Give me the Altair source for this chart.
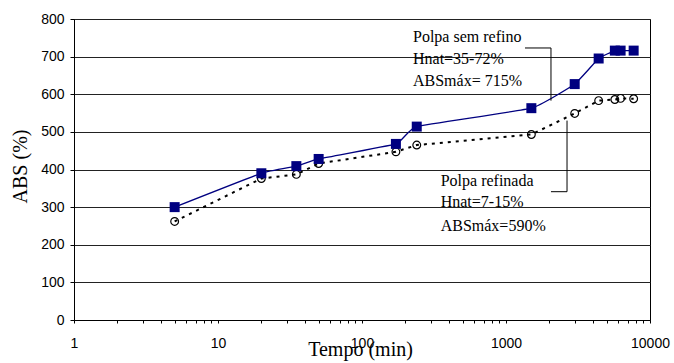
import altair as alt
import pandas as pd

# ---- data ----
tempo = [5, 20, 35, 50, 172, 240, 1500, 3000, 4400, 5700, 6250, 7700]
abs_sem_refino = [300, 390, 409, 428, 468, 514, 563, 627, 695, 716, 716, 716]
abs_refinada = [262, 376, 387, 416, 447, 465, 493, 549, 583, 586, 589, 588]

y_ticks = [0, 100, 200, 300, 400, 500, 600, 700, 800]
x_major = [1, 10, 100, 1000, 10000]
x_ticks = [m * 10 ** k for k in range(4) for m in range(1, 10)] + [10000]

label_sem = ["Polpa sem refino", "Hnat=35-72%", "ABSmáx= 715%"]
label_sem_y = [753, 693, 636]
label_sem_x = 226

label_ref = ["Polpa refinada", "Hnat=7-15%", "ABSmáx=590%"]
label_ref_y = [370, 314, 250]
label_ref_x = 352

# callout leader lines (data coordinates)
leaders = pd.DataFrame({
    "t":  [1355, 2053, 2053, 2653],
    "t2": [2053, 2053, 2653, 2653],
    "v":  [723, 723, 341, 530],
    "v2": [723, 583, 341, 341],
})

df1 = pd.DataFrame({"t": tempo, "v": abs_sem_refino})
df2 = pd.DataFrame({"t": tempo, "v": abs_refinada})
t1 = pd.DataFrame({"t": [label_sem_x] * 3, "v": label_sem_y, "txt": label_sem})
t2 = pd.DataFrame({"t": [label_ref_x] * 3, "v": label_ref_y, "txt": label_ref})

major_expr = "||".join(f"datum.value=={m}" for m in x_major)
SERIF = "Liberation Serif, Times New Roman, serif"

x_enc = alt.X(
    "t:Q",
    scale=alt.Scale(type="log", domain=[1, 10000], nice=False),
    axis=alt.Axis(
        values=x_ticks,
        tickCount=50,
        labelExpr=f"({major_expr}) ? format(datum.value, 'd') : ''",
        labelOverlap=False,
        labelFlush=False,
        grid=False,
        title="Tempo  (min)",
        titleFont=SERIF,
        titleFontSize=20,
        titleFontWeight="normal",
        titleX=286,
        titleY=35,
        titleAlign="center",
        titleBaseline="alphabetic",
        tickSize=3,
        labelPadding=13,
    ),
)
y_enc = alt.Y(
    "v:Q",
    scale=alt.Scale(domain=[0, 800], nice=False),
    axis=alt.Axis(
        values=y_ticks,
        tickCount=20,
        labelOverlap=False,
        grid=True,
        gridColor="#222222",
        gridOpacity=1,
        gridWidth=1,
        title="ABS (%)",
        titleFont=SERIF,
        titleFontSize=20,
        titleFontWeight="normal",
        titleAngle=-90,
        titleX=-48,
        titleY=147,
        titleAlign="center",
        titleBaseline="alphabetic",
        tickSize=4,
        labelPadding=6,
    ),
)

line1 = alt.Chart(df1).mark_line(color="#000080", strokeWidth=1.3, interpolate="cardinal", tension=0.65).encode(x=x_enc, y=y_enc)
pts1 = alt.Chart(df1).mark_square(color="#000080", size=100, opacity=1).encode(x=x_enc, y=y_enc)
line2 = alt.Chart(df2).mark_line(color="black", strokeWidth=2, strokeDash=[3, 5], interpolate="linear").encode(x=x_enc, y=y_enc)
pts2 = alt.Chart(df2).mark_point(shape="circle", filled=False, color="black", size=60, strokeWidth=1.2, opacity=1).encode(x=x_enc, y=y_enc)

txt1 = alt.Chart(t1).mark_text(align="left", baseline="middle", font=SERIF, fontSize=16, color="black").encode(x=x_enc, y=y_enc, text="txt:N")
txt2 = alt.Chart(t2).mark_text(align="left", baseline="middle", font=SERIF, fontSize=16, color="black").encode(x=x_enc, y=y_enc, text="txt:N")
lead = alt.Chart(leaders).mark_rule(color="black", strokeWidth=1).encode(x=x_enc, x2="t2:Q", y=y_enc, y2="v2:Q")

chart = (
    alt.layer(line1, line2, pts2, pts1, lead, txt1, txt2)
    .properties(
        width=576,
        height=301,
        autosize=alt.AutoSizeParams(type="none"),
        padding={"left": 74, "top": 19, "right": 24, "bottom": 43},
        background="white",
    )
    .configure_view(stroke="black", strokeWidth=1)
    .configure_axis(
        domainColor="black",
        tickColor="black",
        labelColor="black",
        titleColor="black",
        labelFont="Liberation Sans",
        labelFontSize=14,
    )
)

chart.save("out.html", embed_options={"renderer": "svg", "actions": False})
